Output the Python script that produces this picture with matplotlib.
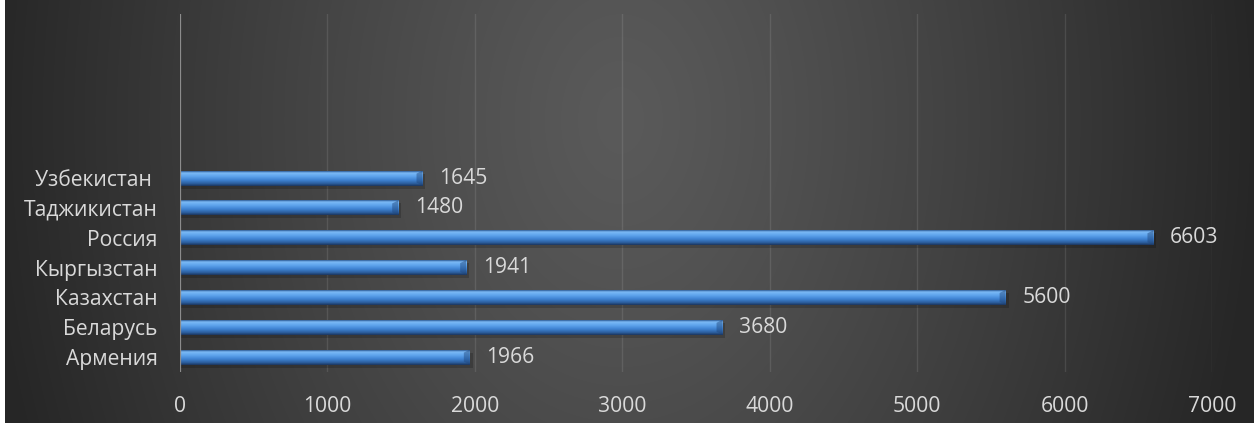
import matplotlib.pyplot as plt
import numpy as np
from matplotlib.colors import LinearSegmentedColormap
from matplotlib.patches import Rectangle, Polygon

countries = ["Армения", "Беларусь", "Казахстан", "Кыргызстан", "Россия", "Таджикистан", "Узбекистан "]
values = [1966, 3680, 5600, 1941, 6603, 1480, 1645]
xticks = [0, 1000, 2000, 3000, 4000, 5000, 6000, 7000]
n_slots = 12  # the chart leaves empty category slots above the bars

plt.rcParams["font.family"] = ["Open Sans", "DejaVu Sans"]
text_color = "#d9d9d9"
fs = 15.2

W, H = 1254, 423
fig = plt.figure(figsize=(W / 100, H / 100), dpi=100)

# background: soft radial gradient, light in the middle, dark at the sides
bg = fig.add_axes([0, 0, 1, 1], zorder=0)
yy, xx = np.mgrid[0:H, 0:W]
d = np.sqrt(((xx - 620) / 640.0) ** 2 + ((yy - 120) / 900.0) ** 2)
t = np.clip(d, 0, 1) ** 1.2
shade = (0x5a + t * (0x26 - 0x5a)) / 255.0
img = np.dstack([shade, shade, shade])
img[:, :5, :] = 1.0
bg.imshow(img, extent=(0, W, H, 0), aspect="auto")
bg.axis("off")

ax = fig.add_axes([180 / W, 1 - 372 / H, (1212 - 180) / W, (372 - 14) / H], zorder=1)
ax.set_facecolor("none")

bar_cmap = LinearSegmentedColormap.from_list(
    "bevel",
    [(0.0, "#2d5b96"), (0.12, "#7cbaf6"), (0.35, "#5ea3ec"), (0.6, "#3f83d2"),
     (0.85, "#2b5d9c"), (1.0, "#1b355c")],
)
grad = np.linspace(0, 1, 64).reshape(-1, 1)

h = 0.5
px_per_unit = (1212 - 180) / 7000.0
bevel = 6 / px_per_unit
for i, v in enumerate(values):
    # drop shadow
    ax.add_patch(Rectangle((0, i - h / 2 - 0.1), v + 20, h, color="black", alpha=0.18,
                           lw=0, zorder=2))
    ax.imshow(grad, extent=(0, v, i - h / 2, i + h / 2), cmap=bar_cmap, aspect="auto",
              origin="upper", zorder=3, interpolation="bilinear")
    # right-end bevel
    ax.add_patch(Polygon([(v - bevel, i + h / 2 - 0.1), (v, i + h / 2), (v, i - h / 2),
                          (v - bevel, i - h / 2 + 0.1)],
                         closed=True, color="#1f4478", alpha=0.45, lw=0, zorder=4))
    ax.annotate(str(v), (v, i), xytext=(12, 0), textcoords="offset points",
                va="center", ha="left", fontsize=fs, color=text_color)

for x in xticks[1:]:
    ax.axvline(x, color="white", alpha=0.1, lw=1, zorder=1)
ax.axvline(0, color="#8c8c8c", lw=1.6, zorder=5)

ax.set_xlim(0, 7000)
ax.set_ylim(-0.5, n_slots - 0.5)
ax.set_xticks(xticks)
ax.set_yticks(range(len(countries)))
ax.set_yticklabels(countries)
ax.tick_params(axis="both", length=0, colors=text_color, labelsize=fs)
ax.tick_params(axis="y", pad=16)
ax.tick_params(axis="x", pad=17)
for s in ax.spines.values():
    s.set_visible(False)

fig.savefig("out.png", dpi=100)
